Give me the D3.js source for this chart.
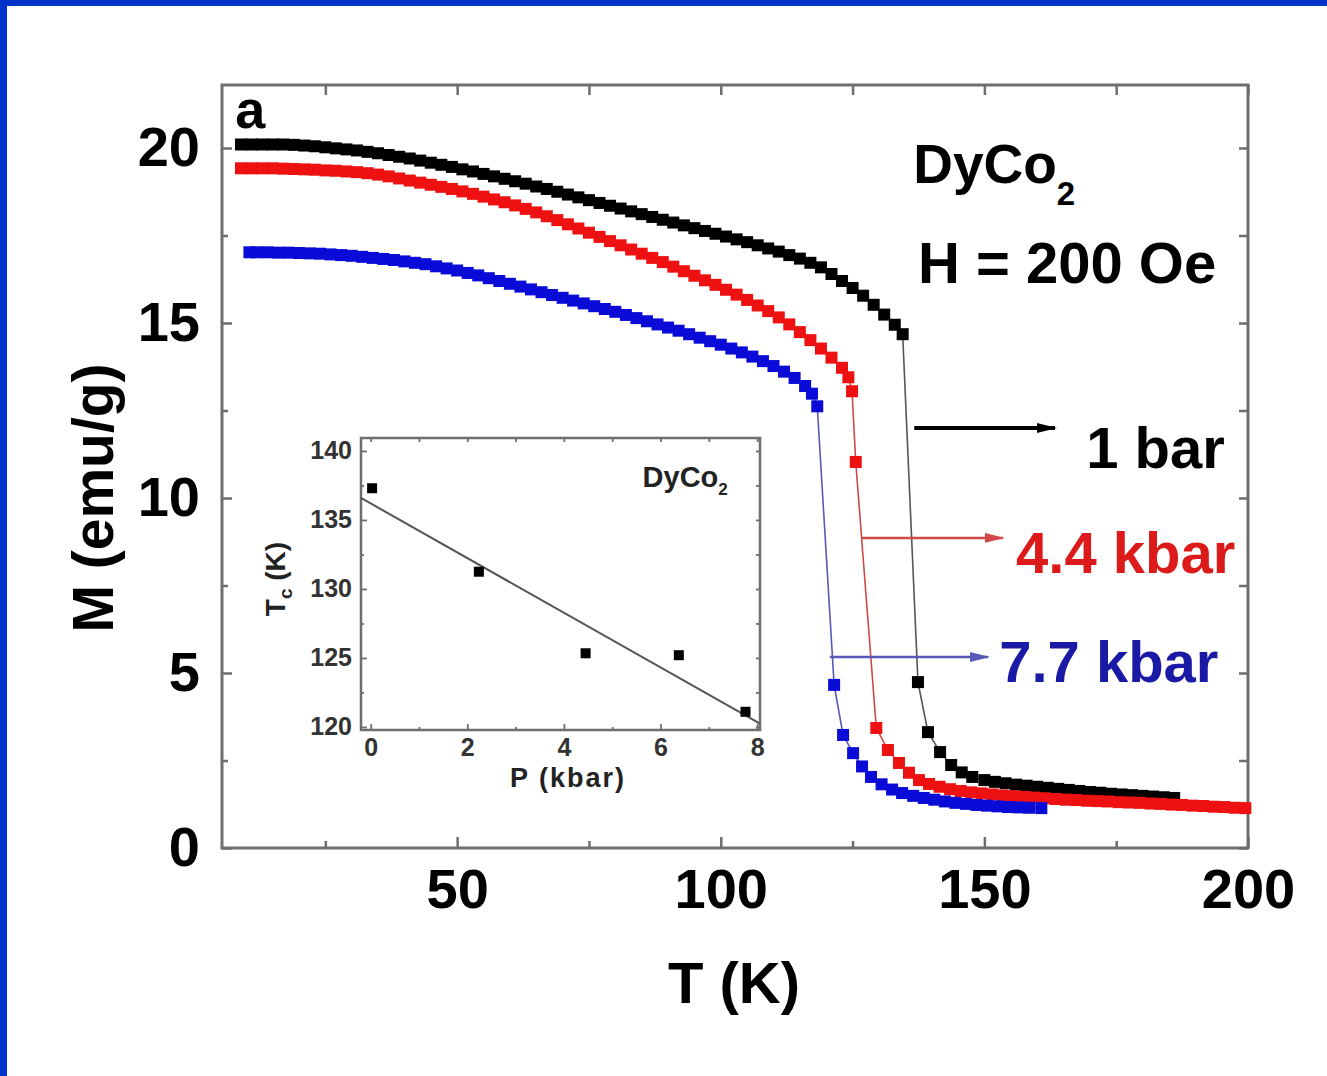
<!DOCTYPE html>
<html>
<head>
<meta charset="utf-8">
<script src="https://cdn.jsdelivr.net/npm/d3@7"></script>
<style>
  html, body { margin: 0; padding: 0; background: #fff; }
  svg { display: block; }
  text { font-family: "Liberation Sans", Arial, sans-serif; font-weight: bold; }
</style>
</head>
<body>
<svg id="chart" width="1327" height="1076"></svg>
<script>
// ---- Main panel: magnetization M (emu/g) vs temperature T (K), H = 200 Oe ----
const tDomain = [5.4, 200];
const mDomain = [0, 21.8];
const tMajorTicks = [50, 100, 150, 200];
const tMinorTicks = [25, 75, 125, 175];
const mMajorTicks = [0, 5, 10, 15, 20];
const mMinorTicks = [2.5, 7.5, 12.5, 17.5];

// [T (K), M (emu/g)] at ambient pressure (1 bar)
const series1bar = [
  [9,20.10],[11,20.10],[13,20.10],[15,20.10],[17,20.10],[19,20.09],[21,20.07],[23,20.05],
  [25,20.02],[27,19.99],[29,19.96],[31,19.93],[33,19.89],[35,19.85],[37,19.80],[39,19.75],
  [41,19.70],[43,19.64],[45,19.58],[47,19.52],[49,19.46],[51,19.39],[53,19.33],[55,19.26],
  [57,19.19],[59,19.12],[61,19.05],[63,18.98],[65,18.90],[67,18.83],[69,18.75],[71,18.67],
  [73,18.59],[75,18.51],[77,18.43],[79,18.35],[81,18.27],[83,18.19],[85,18.11],[87,18.03],
  [89,17.95],[91,17.87],[93,17.79],[95,17.71],[97,17.63],[99,17.55],[101,17.47],[103,17.39],
  [105,17.31],[107,17.22],[109,17.13],[111,17.04],[113,16.94],[115,16.84],[117,16.72],[119,16.59],
  [121,16.40],[123,16.20],[125,16.00],[127,15.78],[129,15.52],[131,15.24],[133,14.95],[134.5,14.68],
  [137.4,4.74],[139.3,3.31],[141.6,2.74],[143.7,2.37],[145.7,2.16],[147.7,2.03],[150,1.94],[152,1.89],
  [154,1.85],[156,1.81],[158,1.78],[160,1.75],[162,1.72],[164,1.69],[166,1.66],[168,1.63],
  [170,1.60],[172,1.58],[174,1.55],[176,1.53],[178,1.51],[180,1.49],[182,1.47],[184,1.45],[186,1.43]
];

// [T (K), M (emu/g)] at 4.4 kbar
const series4p4kbar = [
  [9,19.42],[11,19.42],[13,19.42],[15,19.42],[17,19.41],[19,19.40],[21,19.39],[23,19.38],
  [25,19.36],[27,19.35],[29,19.33],[31,19.31],[33,19.28],[35,19.24],[37,19.19],[39,19.13],
  [41,19.07],[43,19.01],[45,18.95],[47,18.89],[49,18.83],[51,18.76],[53,18.69],[55,18.61],
  [57,18.53],[59,18.45],[61,18.36],[63,18.26],[65,18.16],[67,18.05],[69,17.94],[71,17.82],
  [73,17.70],[75,17.58],[77,17.46],[79,17.34],[81,17.22],[83,17.10],[85,16.98],[87,16.86],
  [89,16.74],[91,16.61],[93,16.48],[95,16.35],[97,16.22],[99,16.09],[101,15.95],[103,15.81],
  [105,15.66],[107,15.50],[109,15.34],[111,15.16],[113,14.96],[115,14.74],[117,14.51],[119,14.27],
  [121,14.01],[123,13.72],[124.2,13.45],[124.9,13.05],[125.6,11.03],
  [129.5,3.43],[131.7,2.80],[133.8,2.43],[135.7,2.15],[137.6,1.94],[139.5,1.83],[141.5,1.75],
  [143.5,1.68],[145.5,1.63],[147.5,1.59],[149.5,1.56],[151.5,1.53],[153.5,1.50],[155.5,1.48],
  [157.5,1.46],[159.5,1.44],[161.5,1.42],[163.5,1.40],[165.5,1.38],[167.5,1.37],[169.5,1.35],
  [171.5,1.34],[173.5,1.33],[175.5,1.31],[177.5,1.30],[179.5,1.29],[181.5,1.27],[183.5,1.26],
  [185.5,1.24],[187.5,1.23],[189.5,1.21],[191.5,1.20],[193.5,1.18],[195.5,1.17],[197.5,1.15],[199.5,1.14]
];

// [T (K), M (emu/g)] at 7.7 kbar
const series7p7kbar = [
  [10.6,17.02],[12,17.02],[14,17.02],[16,17.01],[18,17.01],[20,17.00],[22,16.99],[24,16.98],
  [26,16.96],[28,16.94],[30,16.92],[32,16.89],[34,16.86],[36,16.83],[38,16.80],[40,16.76],
  [42,16.72],[44,16.68],[46,16.62],[48,16.56],[50,16.50],[52,16.43],[54,16.36],[56,16.28],
  [58,16.20],[60,16.12],[62,16.04],[64,15.96],[66,15.88],[68,15.80],[70,15.72],[72,15.64],
  [74,15.56],[76,15.48],[78,15.40],[80,15.32],[82,15.23],[84,15.14],[86,15.05],[88,14.96],
  [90,14.87],[92,14.78],[94,14.68],[96,14.58],[98,14.48],[100,14.38],[102,14.27],[104,14.16],
  [106,14.04],[108,13.91],[110,13.77],[112,13.61],[114,13.43],[116,13.20],[117.3,12.98],[118.3,12.62],
  [121.5,4.66],[123.2,3.23],[125.1,2.71],[126.8,2.33],[128.5,2.03],[130.5,1.82],[132.5,1.67],
  [134.4,1.57],[136.5,1.49],[138.5,1.43],[140.5,1.38],[142.5,1.33],[144.5,1.29],[146.5,1.26],
  [148.5,1.23],[150.5,1.21],[152.5,1.19],[154.5,1.17],[156.5,1.16],[158.5,1.15],[160.8,1.14]
];

const seriesNames = ["1 bar", "4.4 kbar", "7.7 kbar"];
const seriesColors = ["#000000", "#ee1111", "#0b0bd8"];
const labelColors = ["#000000", "#dd1a1a", "#1a1aa6"];
const lineColors = ["#555555", "#d04848", "#5858b8"];
// arrow start/end temperatures, arrow height, and label anchor (T, M)
const arrowT0 = [136.7, 126.8, 120.7];
const arrowT1 = [163.4, 153.5, 150.7];
const arrowM = [12.0, 8.86, 5.46];
const labelT = [169.3, 156.0, 152.8];
const labelM = [10.86, 7.86, 4.74];

// ---- Inset: Curie temperature vs pressure ----
const pDomain = [-0.2, 8.06];
const tcDomain = [119.78, 140.94];
const pTicks = [0, 2, 4, 6, 8];
const pMinorTicks = [1, 3, 5, 7];
const tcTicks = [120, 125, 130, 135, 140];
const tcMinorTicks = [122.5, 127.5, 132.5, 137.5];
const pressureKbar = [0.03, 2.24, 4.45, 6.38, 7.76];
const curieK = [137.3, 131.25, 125.34, 125.2, 121.1];
const fitIntercept = 136.2;
const fitSlope = -1.98;

const svg = d3.select("#chart");
svg.append("rect").attr("width", 1327).attr("height", 1076).attr("fill", "#ffffff");
// slide border
svg.append("rect").attr("x", 0).attr("y", 0).attr("width", 1327).attr("height", 6).attr("fill", "#0033cc");
svg.append("rect").attr("x", 0).attr("y", 0).attr("width", 7).attr("height", 1076).attr("fill", "#0033cc");

const x = d3.scaleLinear().domain(tDomain).range([222, 1248]);
const y = d3.scaleLinear().domain(mDomain).range([848, 85]);
const axisGray = "#6e6e6e";

function styleAxis(g, fontSize) {
  g.select(".domain").remove();
  g.selectAll(".tick line").attr("stroke", axisGray).attr("stroke-width", 2.5);
  g.selectAll(".tick text").attr("fill", "#000").style("font-size", fontSize + "px")
    .style("font-family", '"Liberation Sans", Arial, sans-serif').style("font-weight", "bold");
}

// ticks (inward) and tick labels
svg.append("g").attr("transform", "translate(0,848)")
  .call(d3.axisBottom(x).tickValues(tMajorTicks).tickSize(-11).tickPadding(20).tickFormat(d3.format("d")))
  .call(g => styleAxis(g, 56));
svg.append("g").attr("transform", "translate(0,848)")
  .call(d3.axisBottom(x).tickValues(tMinorTicks).tickSize(-7).tickFormat(""))
  .call(g => styleAxis(g, 56));
svg.append("g").attr("transform", "translate(0,85)")
  .call(d3.axisTop(x).tickValues(tMajorTicks.concat(tMinorTicks)).tickSize(-10).tickFormat(""))
  .call(g => styleAxis(g, 56));
svg.append("g").attr("transform", "translate(222,0)")
  .call(d3.axisLeft(y).tickValues(mMajorTicks).tickSize(-10).tickPadding(22).tickFormat(d3.format("d")))
  .call(g => styleAxis(g, 56));
svg.append("g").attr("transform", "translate(222,0)")
  .call(d3.axisLeft(y).tickValues(mMinorTicks).tickSize(-6).tickFormat(""))
  .call(g => styleAxis(g, 56));
svg.append("g").attr("transform", "translate(1248,0)")
  .call(d3.axisRight(y).tickValues(mMajorTicks.concat(mMinorTicks)).tickSize(-9).tickFormat(""))
  .call(g => styleAxis(g, 56));

// plot frame
svg.append("rect").attr("x", x(tDomain[0])).attr("y", y(mDomain[1]))
  .attr("width", x(tDomain[1]) - x(tDomain[0])).attr("height", y(mDomain[0]) - y(mDomain[1]))
  .attr("fill", "none").attr("stroke", axisGray).attr("stroke-width", 3);

// axis titles
svg.append("text").attr("transform", "translate(113,498) rotate(-90)")
  .attr("text-anchor", "middle").style("font-size", "57px").text("M (emu/g)");
svg.append("text").attr("x", 734).attr("y", 1003)
  .attr("text-anchor", "middle").style("font-size", "58px").text("T (K)");

// data: thin connecting line plus square markers
const allSeries = [series1bar, series4p4kbar, series7p7kbar];
const line = d3.line().x(d => x(d[0])).y(d => y(d[1]));
const markerSize = 12;
allSeries.forEach((data, i) => {
  const g = svg.append("g").attr("class", "series").attr("data-name", seriesNames[i]);
  g.append("path").attr("d", line(data)).attr("fill", "none")
    .attr("stroke", lineColors[i]).attr("stroke-width", 1.6);
  g.selectAll("rect").data(data).join("rect")
    .attr("x", d => x(d[0]) - markerSize / 2).attr("y", d => y(d[1]) - markerSize / 2)
    .attr("width", markerSize).attr("height", markerSize).attr("fill", seriesColors[i]);
});

// arrow heads
const defs = svg.append("defs");
seriesNames.forEach((n, i) => {
  defs.append("marker").attr("id", "arrow" + i).attr("markerUnits", "userSpaceOnUse")
    .attr("viewBox", "0 0 20 12").attr("refX", 18).attr("refY", 6)
    .attr("markerWidth", 20).attr("markerHeight", 12).attr("orient", "auto")
    .append("path").attr("d", "M0,1 L20,6 L0,11 Z").attr("fill", i === 0 ? "#000" : lineColors[i]);
});
seriesNames.forEach((n, i) => {
  svg.append("line").attr("x1", x(arrowT0[i])).attr("x2", x(arrowT1[i]))
    .attr("y1", y(arrowM[i])).attr("y2", y(arrowM[i]))
    .attr("stroke", i === 0 ? "#000" : lineColors[i]).attr("stroke-width", i === 0 ? 4 : 2.5)
    .attr("marker-end", "url(#arrow" + i + ")");
  svg.append("text").attr("x", x(labelT[i])).attr("y", y(labelM[i]))
    .attr("fill", labelColors[i]).style("font-size", "58px").text(n);
});

// panel annotations
svg.append("text").attr("x", x(7.9)).attr("y", y(20.57)).style("font-size", "54px").text("a");
const comp = svg.append("text").attr("x", x(136.5)).attr("y", y(19.0)).style("font-size", "55px");
comp.append("tspan").text("DyCo");
comp.append("tspan").attr("dy", 22).style("font-size", "33px").text("2");
svg.append("text").attr("x", x(137.4)).attr("y", y(16.14)).style("font-size", "58px").text("H = 200 Oe");

// ---- inset ----
const xi = d3.scaleLinear().domain(pDomain).range([361, 760]);
const yi = d3.scaleLinear().domain(tcDomain).range([730, 438]);
const inset = svg.append("g").attr("class", "inset");
inset.append("rect").attr("x", xi(pDomain[0])).attr("y", yi(tcDomain[1]))
  .attr("width", xi(pDomain[1]) - xi(pDomain[0])).attr("height", yi(tcDomain[0]) - yi(tcDomain[1]))
  .attr("fill", "#fff");

function styleInset(g) {
  g.select(".domain").remove();
  g.selectAll(".tick line").attr("stroke", axisGray).attr("stroke-width", 1.8);
  g.selectAll(".tick text").attr("fill", "#333").style("font-size", "25px")
    .style("font-family", '"Liberation Sans", Arial, sans-serif').style("font-weight", "bold");
}
inset.append("g").attr("transform", `translate(0,${yi(tcDomain[0])})`)
  .call(d3.axisBottom(xi).tickValues(pTicks).tickSize(-6).tickPadding(8).tickFormat(d3.format("d")))
  .call(styleInset);
inset.append("g").attr("transform", `translate(0,${yi(tcDomain[0])})`)
  .call(d3.axisBottom(xi).tickValues(pMinorTicks).tickSize(-3).tickFormat("")).call(styleInset);
inset.append("g").attr("transform", `translate(0,${yi(tcDomain[1])})`)
  .call(d3.axisTop(xi).tickValues(pTicks.concat(pMinorTicks)).tickSize(-4).tickFormat("")).call(styleInset);
inset.append("g").attr("transform", `translate(${xi(pDomain[0])},0)`)
  .call(d3.axisLeft(yi).tickValues(tcTicks).tickSize(-6).tickPadding(9).tickFormat(d3.format("d")))
  .call(styleInset);
inset.append("g").attr("transform", `translate(${xi(pDomain[0])},0)`)
  .call(d3.axisLeft(yi).tickValues(tcMinorTicks).tickSize(-3).tickFormat("")).call(styleInset);
inset.append("g").attr("transform", `translate(${xi(pDomain[1])},0)`)
  .call(d3.axisRight(yi).tickValues(tcTicks.concat(tcMinorTicks)).tickSize(-4).tickFormat("")).call(styleInset);

inset.append("rect").attr("x", xi(pDomain[0])).attr("y", yi(tcDomain[1]))
  .attr("width", xi(pDomain[1]) - xi(pDomain[0])).attr("height", yi(tcDomain[0]) - yi(tcDomain[1]))
  .attr("fill", "none").attr("stroke", axisGray).attr("stroke-width", 2.5);

// linear fit
inset.append("path")
  .attr("d", d3.line().x(p => xi(p)).y(p => yi(fitIntercept + fitSlope * p))(pDomain))
  .attr("stroke", "#555").attr("stroke-width", 2).attr("fill", "none");
// measured Curie temperatures
const insetPts = pressureKbar.map((p, i) => [p, curieK[i]]);
inset.selectAll("rect.pt").data(insetPts).join("rect").attr("class", "pt")
  .attr("x", d => xi(d[0]) - 5).attr("y", d => yi(d[1]) - 5)
  .attr("width", 10).attr("height", 10).attr("fill", "#000");

// inset titles
inset.append("text").attr("x", 568).attr("y", 787).attr("text-anchor", "middle")
  .attr("fill", "#222").style("font-size", "27px").style("letter-spacing", "2px").text("P (kbar)");
const tcTitle = inset.append("text").attr("transform", "translate(285,579) rotate(-90)")
  .attr("text-anchor", "middle").attr("fill", "#222").style("font-size", "28px");
tcTitle.append("tspan").text("T");
tcTitle.append("tspan").attr("dy", 7).style("font-size", "19px").text("c");
tcTitle.append("tspan").attr("dy", -7).text(" (K)");
const insetComp = inset.append("text").attr("x", xi(5.63)).attr("y", yi(137.4))
  .attr("fill", "#222").style("font-size", "29px");
insetComp.append("tspan").text("DyCo");
insetComp.append("tspan").attr("dy", 8).style("font-size", "17px").text("2");
</script>
</body>
</html>
